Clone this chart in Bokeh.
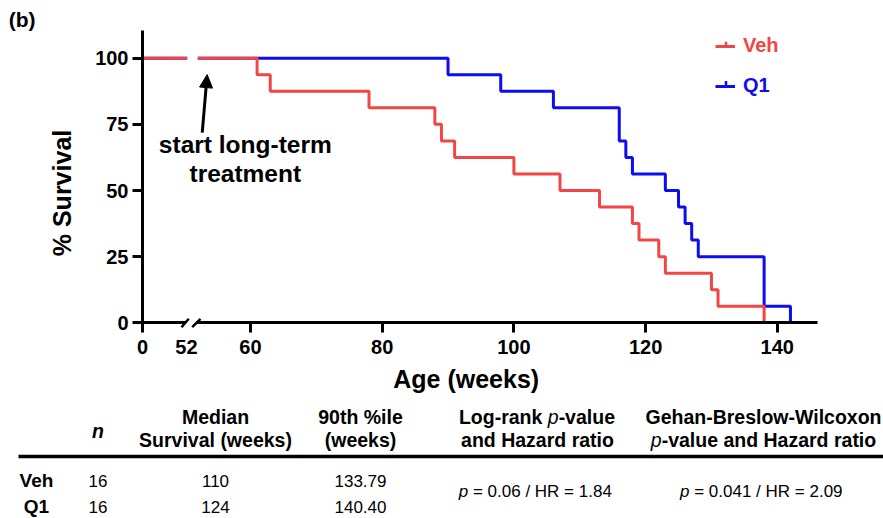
from bokeh.plotting import figure
from bokeh.models import (Range1d, FixedTicker, Label, Arrow, NormalHead,
                          Legend, LegendItem, LinearAxis)
from bokeh.embed import file_html
from bokeh.resources import INLINE
from bokeh.core.properties import value
from math import pi

# ---------------- data ----------------
veh_weeks = [0, 61, 63, 78, 88, 89, 91, 100, 107, 113, 118, 119, 122, 123, 130, 131, 138]
veh_surv = [100, 93.75, 87.5, 81.25, 75, 68.75, 62.5, 56.25, 50, 43.75, 37.5,
            31.25, 25, 18.75, 12.5, 6.25, 0]
q1_weeks = [0, 90, 98, 106, 116, 117, 118, 123, 125, 126, 127, 128, 138, 142]
q1_surv = [100, 93.75, 87.5, 81.25, 68.75, 62.5, 56.25, 50, 43.75, 37.5, 31.25,
           25, 6.25, 0]
break_week = 52           # axis break / start of long-term treatment
y_ticks = [0, 25, 50, 75, 100]
x_ticks_after_break = [60, 80, 100, 120, 140]

table_groups = ["Veh", "Q1"]
table_n = ["16", "16"]
table_median = ["110", "124"]
table_p90 = ["133.79", "140.40"]
logrank_p, logrank_hr = "0.06", "1.84"
gbw_p, gbw_hr = "0.041", "2.09"

# ---------------- styles / geometry ----------------
RED = "#F04646"
BLUE = "#0D0DF0"
FONT = "Liberation Sans"
W, H = 883, 518
PX_PER_WEEK = 6.585       # after the break
PX_PER_WEEK_SEG1 = 0.8596 # compressed part 0..52 weeks
PX_PER_PCT = 2.646
X0_PX, Y0_PX = 142, 322.3 # canvas position of (week 0, 0 %)

ZERO_POS = 43.6           # main-range coordinate of week 0
LABEL52_POS = 50.28       # main-range coordinate of the "52" label
AXIS_END = 146.1
Y_AXIS_END = 110.4
SEG1_AXIS_END = 50.09     # axis line ends before the break
SEG2_AXIS_START = 51.77   # axis line restarts after the break
SHIFT = 0.36              # text anchor correction (fraction of font size)

x_start = ZERO_POS - X0_PX / PX_PER_WEEK
y_end = Y0_PX / PX_PER_PCT
p = figure(width=W, height=H,
           x_range=Range1d(x_start, x_start + W / PX_PER_WEEK),
           y_range=Range1d(y_end - H / PX_PER_PCT, y_end),
           output_backend="svg", toolbar_location=None, min_border=0,
           x_axis_type=None, y_axis_type=None)
p.extra_x_ranges = {"seg1": Range1d(-X0_PX / PX_PER_WEEK_SEG1, (W - X0_PX) / PX_PER_WEEK_SEG1),
                    "px": Range1d(0, W)}
p.extra_y_ranges = {"py": Range1d(H, 0)}
p.outline_line_color = None
p.grid.visible = False
p.background_fill_color = "white"
p.border_fill_color = "white"

# ---------------- curves ----------------
renderers = {}
for name, weeks, surv, col in [("Q1", q1_weeks, q1_surv, BLUE), ("Veh", veh_weeks, veh_surv, RED)]:
    p.line(x=[weeks[0], break_week], y=[surv[0], surv[0]], x_range_name="seg1",
           line_color=col, line_width=3)
    renderers[name] = p.step(x=[break_week] + weeks[1:], y=surv, mode="after",
                             line_color=col, line_width=3)


# ---------------- axes (fixed at the origin) ----------------
def style_axis(ax, show_line=True, show_ticks=True):
    ax.axis_line_width = 3
    ax.axis_line_color = "black" if show_line else None
    ax.major_tick_line_width = 3
    ax.major_tick_line_color = "black" if show_ticks else None
    ax.major_tick_out = 10
    ax.major_tick_in = 0
    ax.minor_tick_line_color = None
    ax.major_label_text_font = FONT
    ax.major_label_text_font_style = "bold"
    ax.major_label_text_font_size = "20px"
    ax.major_label_text_color = "black"


xa1 = LinearAxis(fixed_location=0, bounds=(ZERO_POS, SEG1_AXIS_END),
                 ticker=FixedTicker(ticks=[ZERO_POS]),
                 major_label_overrides={ZERO_POS: "0"}, major_label_standoff=7)
xa52 = LinearAxis(fixed_location=0, ticker=FixedTicker(ticks=[LABEL52_POS]),
                  major_label_overrides={LABEL52_POS: str(break_week)},
                  major_label_standoff=7)
xa2 = LinearAxis(fixed_location=0, bounds=(SEG2_AXIS_START, AXIS_END),
                 ticker=FixedTicker(ticks=x_ticks_after_break), major_label_standoff=7)
ya = LinearAxis(fixed_location=ZERO_POS, bounds=(0, Y_AXIS_END),
                ticker=FixedTicker(ticks=y_ticks), major_label_standoff=4)
style_axis(xa1)
style_axis(xa52, show_line=False, show_ticks=False)
style_axis(xa2)
style_axis(ya)
for ax in (xa1, xa52, xa2):
    p.add_layout(ax, "below")
p.add_layout(ya, "left")

# axis-break slashes
p.segment(x0=[181, 191.7], y0=[326.7, 326.7], x1=[188.3, 200], y1=[318.3, 318.3],
          x_range_name="px", y_range_name="py", line_color="black", line_width=2.5)


def label(x, y, text, size, angle=0.0, align="center"):
    # y is the wanted baseline (canvas px); the anchor is corrected by SHIFT
    if angle:
        x = x - SHIFT * size
    else:
        y = y - SHIFT * size
    p.add_layout(Label(x=x, y=y, text=text, angle=angle, x_range_name="px",
                       y_range_name="py", text_align=align, text_baseline="alphabetic",
                       text_font=FONT, text_font_style="bold",
                       text_font_size=f"{size}px", text_color="black"))


# axis titles
label(465.7, 387, "Age (weeks)", 25)
label(70, 192.5, "% Survival", 25, angle=pi / 2)

# annotation arrow and text
p.add_layout(Arrow(end=NormalHead(size=13, fill_color="black", line_color="black"),
                   x_start=52.67, y_start=71.9, x_end=53.42, y_end=93.8,
                   line_color="black", line_width=3))
label(244.8, 153.3, "start long-term", 24.5)
label(244.8, 182.3, "treatment", 24.5)
label(8.3, 26.5, "(b)", 21, align="left")

# legends (one per colour) with the small censor tick of the reference
for name, col, loc, ymid in [("Veh", RED, (715, H - 57), 46.2), ("Q1", BLUE, (715, H - 97), 85.5)]:
    leg = Legend(items=[LegendItem(label=name, renderers=[renderers[name]])],
                 location=loc, padding=0, margin=0, spacing=0, border_line_color=None,
                 background_fill_alpha=0, glyph_width=20, glyph_height=20,
                 label_height=20, label_standoff=8, label_text_font=FONT,
                 label_text_font_style="bold", label_text_font_size="20px",
                 label_text_color=col)
    p.add_layout(leg)
    p.segment(x0=[725.5], y0=[ymid], x1=[725.5], y1=[ymid - 5], x_range_name="px",
              y_range_name="py", line_color=col, line_width=2.5)

# ---------------- table ----------------
COL_GRP, COL_N, COL_MED, COL_P90, COL_LR, COL_GBW = 36, 97.5, 215, 360, 537, 763
H1, H2, N_BASE, RULE, ROW1, ROWP, ROW2 = 423.3, 446.5, 437.7, 456, 486.7, 497.3, 513


def txt(xs, ys, texts, size, style="normal", align="center"):
    p.text(x=xs, y=[y - SHIFT * size for y in ys], text=texts, x_range_name="px",
           y_range_name="py", text_font=value(FONT), text_font_size=f"{size}px",
           text_font_style=style, text_align=align, text_baseline="alphabetic",
           text_color="black")


HS = 19.5   # header font size (px)
VS = 17     # value font size (px)
txt([COL_N], [N_BASE], ["n"], HS, "bold italic")
txt([COL_MED, COL_MED, COL_P90, COL_P90], [H1, H2, H1, H2],
    ["Median", "Survival (weeks)", "90th %ile", "(weeks)"], HS, "bold")
lr_start = COL_LR - 8.057 * HS / 2
txt([lr_start], [H1], ["Log-rank"], HS, "bold", "left")
txt([lr_start + 4.556 * HS], [H1], ["p"], HS, "italic", "left")
txt([lr_start + 5.112 * HS], [H1], ["-value"], HS, "bold", "left")
txt([COL_LR, COL_GBW], [H2, H1], ["and Hazard ratio", "Gehan-Breslow-Wilcoxon"], HS, "bold")
gb_start = COL_GBW - 11.559 * HS / 2
txt([gb_start], [H2], ["p"], HS, "italic", "left")
txt([gb_start + 0.556 * HS], [H2], ["-value and Hazard ratio"], HS, "bold", "left")

p.line(x=[18, W], y=[RULE, RULE], x_range_name="px", y_range_name="py",
       line_color="black", line_width=3.5)

txt([COL_GRP, COL_GRP], [ROW1, ROW2], table_groups, 19, "bold")
txt([COL_N, COL_N], [ROW1, ROW2], table_n, VS)
txt([COL_MED, COL_MED], [ROW1, ROW2], table_median, VS)
txt([COL_P90, COL_P90], [ROW1, ROW2], table_p90, VS)
lr_txt = "= " + logrank_p + " / HR = " + logrank_hr
gb_txt = "= " + gbw_p + " / HR = " + gbw_hr
lr0 = COL_LR - 9.266 * VS / 2
gb0 = COL_GBW - 9.822 * VS / 2
txt([lr0, gb0], [ROWP, ROWP], ["p", "p"], VS, "italic", "left")
txt([lr0 + 0.834 * VS, gb0 + 0.834 * VS], [ROWP, ROWP], [lr_txt, gb_txt], VS,
    "normal", "left")

open("out.html", "w").write(file_html(p, INLINE))
